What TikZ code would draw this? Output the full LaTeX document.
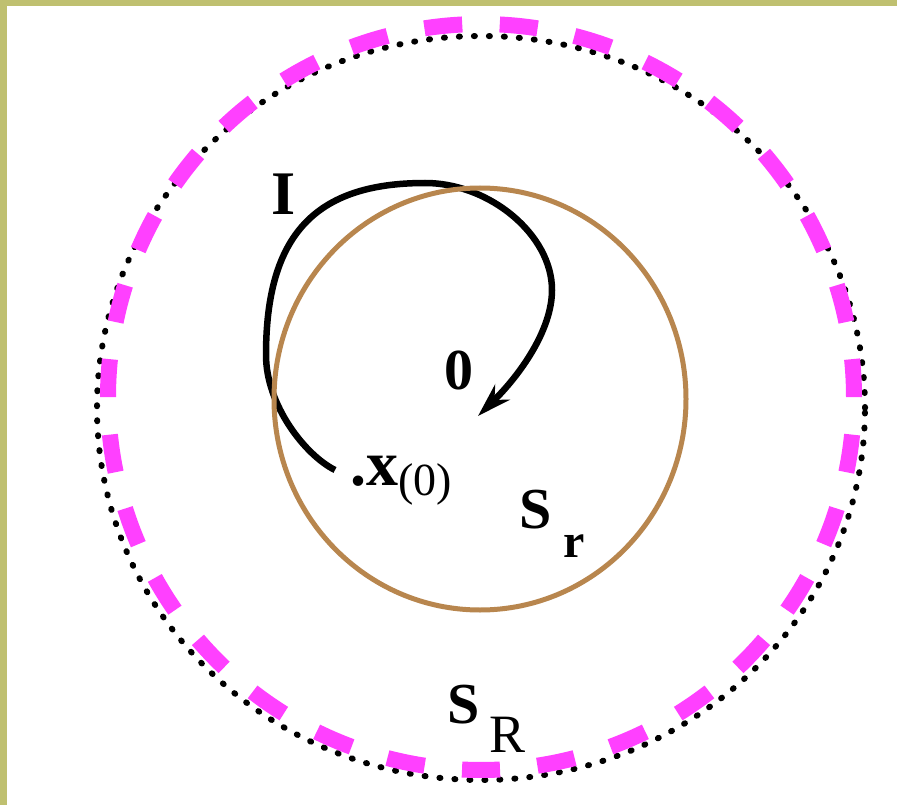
\documentclass[tikz,border=0pt]{standalone}
\usepackage{fontspec}
\setmainfont{Liberation Serif}
\usetikzlibrary{arrows.meta,positioning}
\definecolor{frameolive}{RGB}{191,192,112}
\definecolor{ringbrown}{RGB}{184,134,78}
\definecolor{ringpink}{RGB}{255,64,255}

\begin{document}
\begin{tikzpicture}[
  x=1pt,y=-1pt,
  lbl/.style={inner sep=0pt,font=\fontsize{58}{58}\selectfont\bfseries},
  pinkdash/.style={line width=16pt,ringpink},
  dotring/.style={line width=6pt,line cap=round,dash pattern=on 1pt off 14pt},
  smallring/.style={line width=5pt,ringbrown},
  orbit/.style={line width=6.5pt,-{Stealth[length=34pt,width=21pt]}}
]
  \useasboundingbox (0,0) rectangle (897,805);
  \fill[frameolive] (0,0) rectangle (897,805);
  \fill[white] (7,6) rectangle (897,805);

  % the two spheres S_R
  \coordinate (c) at (481,397);
  \draw[dotring] (481,408) ellipse [x radius=384pt,y radius=372pt];
  \foreach \k in {0,...,30}
    \draw[pinkdash] ([shift={(92.886+11.613*\k:373pt)}]c)
      arc[start angle=92.886+11.613*\k,delta angle=5.84,radius=373pt];

  % trajectory from x(0) to 0
  \coordinate (x0) at (335,470);
  \coordinate (o) at (478,416);
  \draw[orbit] (x0) .. controls (305,455) and (266,405) .. (266,355)
    .. controls (266,235) and (315,183) .. (425,183)
    .. controls (490,183) and (552,235) .. (552,290)
    .. controls (552,330) and (520,375) .. (o);

  % sphere S_r
  \draw[smallring] (480,399) ellipse [x radius=206pt,y radius=211pt];

  \node[lbl,font=\fontsize{62}{62}\selectfont\bfseries] (traj) at (284,194) {I};
  \node[lbl] (zero) at (459,370) {0};
  \node[lbl,font=\fontsize{64}{64}\selectfont\bfseries,anchor=base west] (start) at (350,485)
    {.x\raisebox{-10pt}{\fontsize{46}{46}\selectfont\mdseries(0)}};
  \node[lbl,anchor=base west] (small) at (519,528)
    {S\hspace{12pt}\raisebox{-29pt}{\fontsize{48}{48}\selectfont r}};
  \node[lbl,anchor=base west] (large) at (447,723)
    {S\hspace{10pt}\raisebox{-29pt}{\fontsize{54}{54}\selectfont\mdseries R}};
\end{tikzpicture}
\end{document}
